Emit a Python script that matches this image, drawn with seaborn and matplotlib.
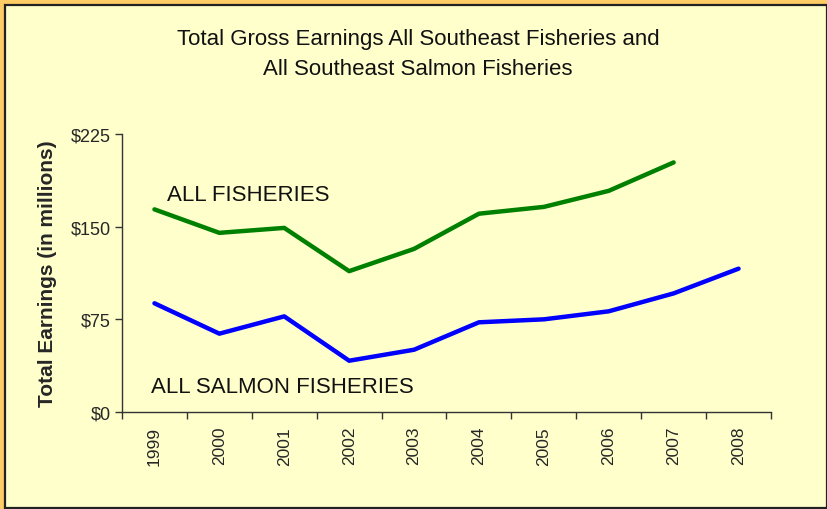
import matplotlib
matplotlib.use("Agg")
import matplotlib.pyplot as plt
import matplotlib.font_manager as fm
from matplotlib.patches import Rectangle
import seaborn as sns
import pandas as pd
import numpy as np

years = ["1999", "2000", "2001", "2002", "2003", "2004", "2005", "2006", "2007", "2008"]
all_fisheries = [164, 145, 149, 114, 132, 160.5, 166, 179, 202, np.nan]
salmon_fisheries = [88, 63.4, 77.4, 41.5, 50.4, 72.6, 75, 81.5, 96, 116]
y_ticks = [0, 75, 150, 225]
y_tick_labels = ["$0", "$75", "$150", "$225"]

sns.set_theme(style="white")
names = {f.name for f in fm.fontManager.ttflist}
narrow = "Liberation Sans Narrow" if "Liberation Sans Narrow" in names else "Liberation Sans"
plt.rcParams["font.family"] = [narrow, "DejaVu Sans"]

df = pd.DataFrame({
    "x": list(range(len(years))) * 2,
    "value": all_fisheries + salmon_fisheries,
    "series": ["ALL FISHERIES"] * len(years) + ["ALL SALMON FISHERIES"] * len(years),
})

fig = plt.figure(figsize=(8.28, 5.10), dpi=100)
fig.patch.set_facecolor("#FFCC66")
fig.patches.append(Rectangle((5 / 828, 1 / 510), 822 / 828, 503.5 / 510, transform=fig.transFigure,
                             facecolor="#FFFFCC", edgecolor="#222222", linewidth=1.6, zorder=-5))

ax = fig.add_axes([122 / 828, 1 - 413 / 510, (771 - 122) / 828, (413 - 135) / 510])
ax.set_zorder(2)
ax.set_facecolor("none")
sns.lineplot(data=df, x="x", y="value", hue="series",
             palette={"ALL FISHERIES": "#008000", "ALL SALMON FISHERIES": "#0000FF"},
             linewidth=3.2, legend=False, ax=ax, sort=False)

ax.set_xlim(-0.5, len(years) - 0.5)
ax.set_ylim(0, 225)
ax.set_yticks(y_ticks)
ax.set_yticklabels(y_tick_labels, fontsize=13)
ax.set_xticks(range(len(years)))
ax.set_xticklabels(years, rotation=90, fontsize=12.5, family=["Liberation Sans", "DejaVu Sans"])
ax.set_xticks(np.arange(-0.5, len(years)), minor=True)
ax.tick_params(axis="x", which="major", length=0, pad=10)
ax.tick_params(axis="x", which="minor", length=5, width=1, color="#333333", direction="out", bottom=True)
ax.tick_params(axis="y", length=5, width=1, color="#333333", direction="out", left=True, pad=3)
ax.set_xlabel("")
ax.set_ylabel("Total Earnings (in millions)", fontsize=15, fontweight="bold",
              family=["Liberation Sans", "DejaVu Sans"], labelpad=10)
for s in ["top", "right"]:
    ax.spines[s].set_visible(False)
for s in ["left", "bottom"]:
    ax.spines[s].set_color("#333333")
    ax.spines[s].set_linewidth(1)

ax.text(0.2, 176, "ALL FISHERIES", fontsize=16, color="#111111", va="center", ha="left")
ax.text(-0.05, 21, "ALL SALMON FISHERIES", fontsize=16, color="#111111", va="center", ha="left")

fig.text(418 / 828, 1 - 40 / 510, "Total Gross Earnings All Southeast Fisheries and",
         ha="center", va="center", fontsize=16, color="#111111")
fig.text(418 / 828, 1 - 70 / 510, "All Southeast Salmon Fisheries",
         ha="center", va="center", fontsize=16, color="#111111")

fig.savefig("out.png", dpi=100, facecolor=fig.get_facecolor())
